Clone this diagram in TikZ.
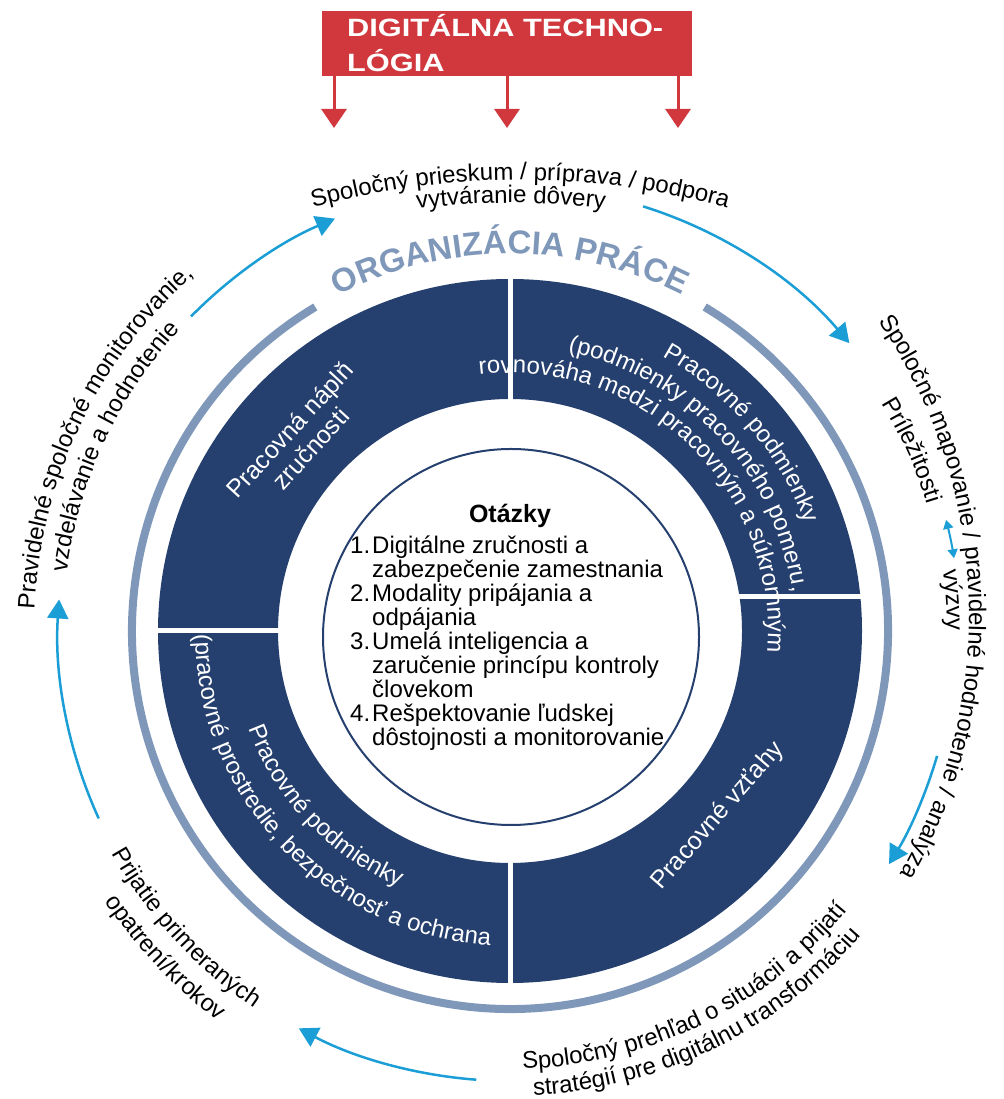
\documentclass[tikz,border=0pt]{standalone}
\usepackage{fontspec}
\setmainfont{Liberation Sans}
\newfontfamily\techfont[FakeStretch=1.23]{Liberation Sans}
\usetikzlibrary{arrows.meta,decorations.text}
\definecolor{navy}{RGB}{37,64,110}
\definecolor{ringblue}{RGB}{127,152,186}
\definecolor{techred}{RGB}{208,56,62}
\definecolor{arrowblue}{RGB}{27,158,214}
\newcommand\pxs[1]{\fontsize{#1}{#1}\selectfont}
\tikzset{
  bluearr/.style={draw=arrowblue, line width=2.5pt, -{Triangle[width=21pt,length=19pt]}},
  dblarr/.style={draw=arrowblue, line width=2pt, {Triangle[width=10pt,length=9pt]}-{Triangle[width=10pt,length=9pt]}},
  redarr/.style={draw=techred, line width=3pt, -{Triangle[width=25pt,length=19pt]}},
  sectortext/.style={decorate, decoration={text along path, text align=center, text color=white, text={|\pxs{24}|#1}}},
  outtext/.style={decorate, decoration={text along path, text align=center, text color=black, text={|\pxs{24}|#1}}},
  divider/.style={draw=white, line width=5pt}
}
\begin{document}
\begin{tikzpicture}[x=1pt,y=1pt]
\useasboundingbox (0,0) rectangle (1003,1099);
\coordinate (C) at (510,468);
\coordinate (R2) at (506,484);
\coordinate (T1c) at (520,139);
\coordinate (T2c) at (511,156);

% red box
\node[fill=techred, minimum width=370pt, minimum height=65pt, anchor=north west, inner sep=0] (tech) at (322,1088) {};
\node[anchor=base west, inner sep=0, text=white, font=\techfont\bfseries\pxs{25}] (techtxt) at (347,1062)
  {\parbox[t]{360pt}{\baselineskip=35pt DIGITÁLNA TECHNO-\\LÓGIA}};
\coordinate (t1) at (334,971);
\coordinate (t2) at (507,971);
\coordinate (t3) at (678,971);
\draw[redarr] (tech.south -| t1) -- (t1);
\draw[redarr] (tech.south -| t2) -- (t2);
\draw[redarr] (tech.south -| t3) -- (t3);

% rings
\fill[navy, even odd rule] (C) circle[radius=352] (C) circle[radius=232];
\draw[divider] (C) ++(90:356) -- ++(270:712);
\draw[divider] (C) ++(180:356) -- (C);
\draw[divider] (510,502) -- (866,502);
\node[circle, draw=navy, line width=2pt, minimum size=376pt, inner sep=0] (inner) at (511,462) {};
\draw[ringblue, line width=8pt] (C) ++(121:378) arc[start angle=121, end angle=419, radius=378];
\path[decorate, decoration={text along path, text align=center, text color=ringblue, text={|\bfseries\pxs{33}|ORGANIZÁCIA PRÁCE}}]
  (C) ++(160:377) arc[start angle=160, end angle=20, radius=377];

% sector texts
\path[sectortext={Pracovné podmienky}] (C) ++(100.5:314) arc[start angle=100.5, end angle=-19.5, radius=314];
\path[sectortext={(podmienky pracovného pomeru,}] (C) ++(113:285) arc[start angle=113, end angle=-27, radius=285];
\path[sectortext={rovnováha medzi pracovným a súkromným}] (C) ++(121:258) arc[start angle=121, end angle=-29, radius=258];
\path[sectortext={Pracovné podmienky}] (C) ++(163.5:279) arc[start angle=163.5, end angle=283.5, radius=279];
\path[sectortext={(pracovné prostredie, bezpečnosť a ochrana}] (C) ++(153.5:315) arc[start angle=153.5, end angle=293.5, radius=315];
\node[rotate=47.5, align=center, text=white, font=\fontsize{25}{28}\selectfont] (napln) at (300,660) {Pracovná náplň\\zručnosti};
\node[rotate=49, text=white, font=\pxs{25}] (vztahy) at (718,283) {Pracovné vzťahy};

% centre
\node[anchor=base, font=\bfseries\pxs{25}] (otazky) at (510,576) {Otázky};
\node[anchor=base west, inner sep=0, font=\pxs{24}] (qlist) at (350,545) {\parbox[t]{350pt}{\baselineskip=24pt
\hangindent=22pt\hangafter=1 \makebox[22pt][l]{1.}Digitálne zručnosti a\newline zabezpečenie zamestnania\par
\hangindent=22pt\hangafter=1 \makebox[22pt][l]{2.}Modality pripájania a\newline odpájania\par
\hangindent=22pt\hangafter=1 \makebox[22pt][l]{3.}Umelá inteligencia a\newline zaručenie princípu kontroly\newline človekom\par
\hangindent=22pt\hangafter=1 \makebox[22pt][l]{4.}Rešpektovanie ľudskej\newline dôstojnosti a monitorovanie\par}};

% outer cycle arrows
\draw[bluearr] (C) ++(204.5:452) arc[start angle=204.5, end angle=176, radius=452];
\draw[bluearr] (C) ++(135.4:448) arc[start angle=135.4, end angle=113, radius=448];
\draw[bluearr] (C) ++(72.6:445) arc[start angle=72.6, end angle=40.3, radius=445];
\draw[dblarr] (C) ++(14.3:450) arc[start angle=14.3, end angle=9.3, radius=450];
\draw[bluearr] (C) ++(-16.3:445) arc[start angle=-16.3, end angle=-31.6, radius=445];
\draw[bluearr] (C) ++(265.7:450) arc[start angle=265.7, end angle=242, radius=450];

% outer texts
\path[outtext={Spoločný prieskum / príprava / podpora}] (T1c) ++(120:780) arc[start angle=120, end angle=60, radius=780];
\path[outtext={vytváranie dôvery}] (T2c) ++(110:740) arc[start angle=110, end angle=70, radius=740];
\path[outtext={Spoločné mapovanie / pravidelné hodnotenie / analýza}] (R2) ++(52.5:463 and 494) arc[start angle=52.5, end angle=-47.5, x radius=463, y radius=494];
\path[outtext={Príležitosti}] (C) ++(54.2:436) arc[start angle=54.2, end angle=-5.8, radius=436];
\path[outtext={výzvy}] (C) ++(34:437) arc[start angle=34, end angle=-26, radius=437];
\path[outtext={Pravidelné spoločné monitorovanie,}] (C) ++(214.5:476) arc[start angle=214.5, end angle=94.5, radius=476];
\path[outtext={vzdelávanie a hodnotenie}] (C) ++(215:447) arc[start angle=215, end angle=95, radius=447];
\path[outtext={Prijatie primeraných}] (C) ++(182.5:456) arc[start angle=182.5, end angle=262.5, radius=456];
\path[outtext={opatrení/krokov}] (C) ++(183.4:487) arc[start angle=183.4, end angle=263.4, radius=487];
\path[outtext={Spoločný prehľad o situácii a prijatí}] (C) ++(236:438) arc[start angle=236, end angle=356, radius=438];
\path[outtext={stratégií pre digitálnu transformáciu}] (C) ++(236:465) arc[start angle=236, end angle=356, radius=465];
\end{tikzpicture}
\end{document}
